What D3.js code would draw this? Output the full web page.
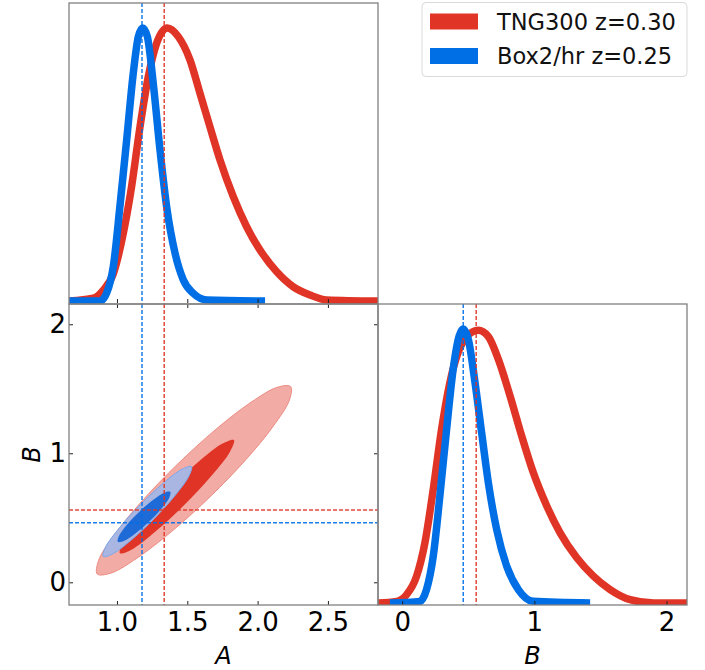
<!DOCTYPE html>
<html>
<head>
<meta charset="utf-8">
<script src="https://cdn.jsdelivr.net/npm/d3@7"></script>
<style>
  body { margin: 0; background: #fff; }
  text { font-family: "DejaVu Sans", sans-serif; }
</style>
</head>
<body>
<script>
// tick values
const aTicks = [1.0, 1.5, 2.0, 2.5];
const bTicks = [0, 1, 2];

// 1D marginal densities, [value, normalised density]
const redA = [[0.66,0],[0.832,0.01],[0.903,0.04],[0.974,0.10],[1.045,0.248],[1.104,0.419],[1.164,0.638],[1.223,0.822],[1.282,0.944],[1.358,1.0],[1.436,0.968],[1.519,0.883],[1.590,0.761],[1.661,0.638],[1.733,0.516],[1.827,0.382],[1.922,0.272],[2.017,0.187],[2.136,0.107],[2.254,0.052],[2.373,0.022],[2.491,0.004],[2.86,0]];
const blueA = [[0.66,0],[0.879,0],[0.927,0.03],[0.974,0.126],[1.021,0.346],[1.069,0.59],[1.116,0.834],[1.152,0.968],[1.183,1.0],[1.216,0.968],[1.258,0.797],[1.306,0.553],[1.353,0.346],[1.413,0.175],[1.472,0.077],[1.543,0.028],[1.638,0.004],[2.053,0]];
const redB = [[-0.19,0],[-0.043,0.006],[0.033,0.03],[0.109,0.098],[0.172,0.22],[0.235,0.415],[0.298,0.634],[0.361,0.805],[0.424,0.915],[0.488,0.972],[0.576,0.995],[0.652,0.972],[0.727,0.89],[0.816,0.756],[0.904,0.61],[0.992,0.476],[1.094,0.354],[1.195,0.256],[1.321,0.165],[1.447,0.098],[1.573,0.049],[1.725,0.012],[1.902,0],[2.16,0]];
const blueB = [[-0.093,0],[0.134,0.006],[0.184,0.049],[0.235,0.171],[0.285,0.39],[0.336,0.634],[0.386,0.854],[0.432,0.976],[0.462,1.0],[0.5,0.963],[0.551,0.805],[0.601,0.622],[0.652,0.439],[0.715,0.268],[0.791,0.134],[0.879,0.049],[0.992,0.006],[1.422,0]];

// 2D contours (68% / 95%), outline points [A, B]
const redOuter = [[2.235,1.517],[2.226,1.413],[2.114,1.214],[1.916,0.950],[1.662,0.663],[1.390,0.395],[1.142,0.187],[0.956,0.071],[0.860,0.064],[0.869,0.169],[0.981,0.368],[1.179,0.631],[1.434,0.919],[1.705,1.187],[1.953,1.395],[2.139,1.511]];
const redInner = [[1.832,1.103],[1.805,1.014],[1.677,0.831],[1.482,0.603],[1.272,0.392],[1.103,0.253],[1.021,0.225],[1.048,0.314],[1.176,0.497],[1.372,0.724],[1.582,0.936],[1.750,1.075]];
const blueOuter = [[1.530,0.897],[1.512,0.824],[1.416,0.677],[1.266,0.495],[1.102,0.328],[0.969,0.220],[0.902,0.200],[0.919,0.273],[1.016,0.420],[1.166,0.602],[1.330,0.769],[1.463,0.877]];
const blueInner = [[1.379,0.701],[1.372,0.655],[1.316,0.570],[1.227,0.468],[1.129,0.377],[1.049,0.320],[1.006,0.314],[1.014,0.359],[1.070,0.445],[1.159,0.547],[1.256,0.638],[1.337,0.695]];

// best-fit markers
const markA = [1.336, 1.178];
const markB = [0.56, 0.462];

const names = ["TNG300 z=0.30", "Box2/hr z=0.25"];
const colors = ["#e03526", "#006fe6"];
const lightFill = ["#f2aca5", "#a8b6e1"];
const lightEdge = ["#ec8c83", "#7ea8ea"];
const darkFill = ["#e03526", "#1e6bd7"];

const series = names.map((name, i) => ({
    name: name,
    color: colors[i],
    a: [redA, blueA][i],
    b: [redB, blueB][i],
    outer: [redOuter, blueOuter][i],
    inner: [redInner, blueInner][i],
    ma: markA[i],
    mb: markB[i],
    light: lightFill[i],
    edge: lightEdge[i],
    dark: darkFill[i]
}));

const width = 705, height = 670;
const pw = 309;
const col = [69, 378];
const top0 = 3, top1 = 304, bot = 605;

const svg = d3.select("body").append("svg")
    .attr("width", width)
    .attr("height", height);

const xA = d3.scaleLinear().domain([0.659, 2.856]).range([col[0], col[0] + pw]);
const xB = d3.scaleLinear().domain([-0.183, 2.155]).range([col[1], col[1] + pw]);
const yB = d3.scaleLinear().domain([-0.176, 2.157]).range([bot, top1]);
const yDa = d3.scaleLinear().domain([-0.0073, 1.0912]).range([top1 - 1, top0]);
const yDb = d3.scaleLinear().domain([-0.0073, 1.0912]).range([bot, top1]);

const panels = [
    { id: "p00", x: col[0], y: top0, w: pw, h: top1 - top0 },
    { id: "p10", x: col[0], y: top1, w: pw, h: bot - top1 },
    { id: "p11", x: col[1], y: top1, w: pw, h: bot - top1 }
];

const defs = svg.append("defs");
panels.forEach(p => {
    defs.append("clipPath").attr("id", "clip-" + p.id)
        .append("rect").attr("x", p.x).attr("y", p.y).attr("width", p.w).attr("height", p.h);
});

const g00 = svg.append("g").attr("clip-path", "url(#clip-p00)");
const g10 = svg.append("g").attr("clip-path", "url(#clip-p10)");
const g11 = svg.append("g").attr("clip-path", "url(#clip-p11)");

// contours
const contour = d3.line()
    .x(d => xA(d[0]))
    .y(d => yB(d[1]))
    .curve(d3.curveCatmullRomClosed.alpha(0.5));

series.forEach(s => {
    g10.append("path")
        .attr("d", contour(s.outer))
        .attr("fill", s.light)
        .attr("stroke", s.edge)
        .attr("stroke-width", 1);
    g10.append("path")
        .attr("d", contour(s.inner))
        .attr("fill", s.dark)
        .attr("stroke", "none");
});

// marginals
const lineA = d3.line().x(d => xA(d[0])).y(d => yDa(d[1])).curve(d3.curveMonotoneX);
const lineB = d3.line().x(d => xB(d[0])).y(d => yDb(d[1])).curve(d3.curveMonotoneX);

series.forEach(s => {
    g00.append("path").attr("d", lineA(s.a))
        .attr("fill", "none").attr("stroke", s.color).attr("stroke-width", 7.5);
    g11.append("path").attr("d", lineB(s.b))
        .attr("fill", "none").attr("stroke", s.color).attr("stroke-width", 7.5);
});

// dashed marker lines
function dash(g, x1, y1, x2, y2, c) {
    g.append("line")
        .attr("x1", x1).attr("y1", y1).attr("x2", x2).attr("y2", y2)
        .attr("stroke", c)
        .attr("stroke-width", 1.5)
        .attr("stroke-opacity", 0.9)
        .attr("stroke-dasharray", "4,2");
}
series.forEach(s => {
    dash(g00, xA(s.ma), top0, xA(s.ma), top1, s.color);
    dash(g10, xA(s.ma), top1, xA(s.ma), bot, s.color);
    dash(g10, col[0], yB(s.mb), col[0] + pw, yB(s.mb), s.color);
    dash(g11, xB(s.mb), top1, xB(s.mb), bot, s.color);
});

// axes with inward ticks
function styleAxis(g) {
    g.select(".domain").remove();
    g.selectAll(".tick line").attr("stroke", "#222").attr("stroke-width", 1);
    g.selectAll(".tick text")
        .attr("font-size", 26)
        .attr("font-family", "DejaVu Sans, sans-serif")
        .attr("fill", "#000");
}

svg.append("g").attr("transform", `translate(0,${top1 - 1})`)
    .call(d3.axisBottom(xA).tickValues(aTicks).tickSize(-4).tickFormat(""))
    .call(styleAxis);

svg.append("g").attr("transform", `translate(0,${bot})`)
    .call(d3.axisBottom(xA).tickValues(aTicks).tickSize(-4).tickPadding(8).tickFormat(d3.format(".1f")))
    .call(styleAxis);

svg.append("g").attr("transform", `translate(0,${top1})`)
    .call(d3.axisTop(xA).tickValues(aTicks).tickSize(-4).tickFormat(""))
    .call(styleAxis);

svg.append("g").attr("transform", `translate(${col[0]},0)`)
    .call(d3.axisLeft(yB).tickValues(bTicks).tickSize(-4).tickPadding(3).tickFormat(d3.format("d")))
    .call(styleAxis);

svg.append("g").attr("transform", `translate(${col[0] + pw},0)`)
    .call(d3.axisRight(yB).tickValues(bTicks).tickSize(-4).tickFormat(""))
    .call(styleAxis);

svg.append("g").attr("transform", `translate(0,${bot})`)
    .call(d3.axisBottom(xB).tickValues(bTicks).tickSize(-4).tickPadding(8).tickFormat(d3.format("d")))
    .call(styleAxis);

// frames
panels.forEach(p => {
    svg.append("rect")
        .attr("x", p.x).attr("y", p.y).attr("width", p.w).attr("height", p.h)
        .attr("fill", "none")
        .attr("stroke", "#808080")
        .attr("stroke-width", 1.3);
});

// axis labels
svg.append("text")
    .attr("x", (col[0] + col[0] + pw) / 2).attr("y", 664)
    .attr("text-anchor", "middle")
    .attr("font-size", 24).attr("font-style", "italic")
    .text("A");
svg.append("text")
    .attr("x", (col[1] + col[1] + pw) / 2).attr("y", 664)
    .attr("text-anchor", "middle")
    .attr("font-size", 24).attr("font-style", "italic")
    .text("B");
svg.append("text")
    .attr("transform", `translate(40,${(top1 + bot) / 2}) rotate(-90)`)
    .attr("text-anchor", "middle")
    .attr("font-size", 24).attr("font-style", "italic")
    .text("B");

// legend
const legend = svg.append("g").attr("transform", "translate(422,2.5)");
legend.append("rect")
    .attr("width", 265).attr("height", 74)
    .attr("rx", 4)
    .attr("fill", "#fff")
    .attr("stroke", "#d9d9d9")
    .attr("stroke-width", 1);
series.forEach((s, i) => {
    legend.append("rect")
        .attr("x", 8).attr("y", 11 + i * 34.5)
        .attr("width", 48).attr("height", 16)
        .attr("fill", s.color);
    legend.append("text")
        .attr("x", 75).attr("y", 27 + i * 34.5)
        .attr("font-size", 22.5)
        .attr("fill", "#111")
        .text(s.name);
});
</script>
</body>
</html>
